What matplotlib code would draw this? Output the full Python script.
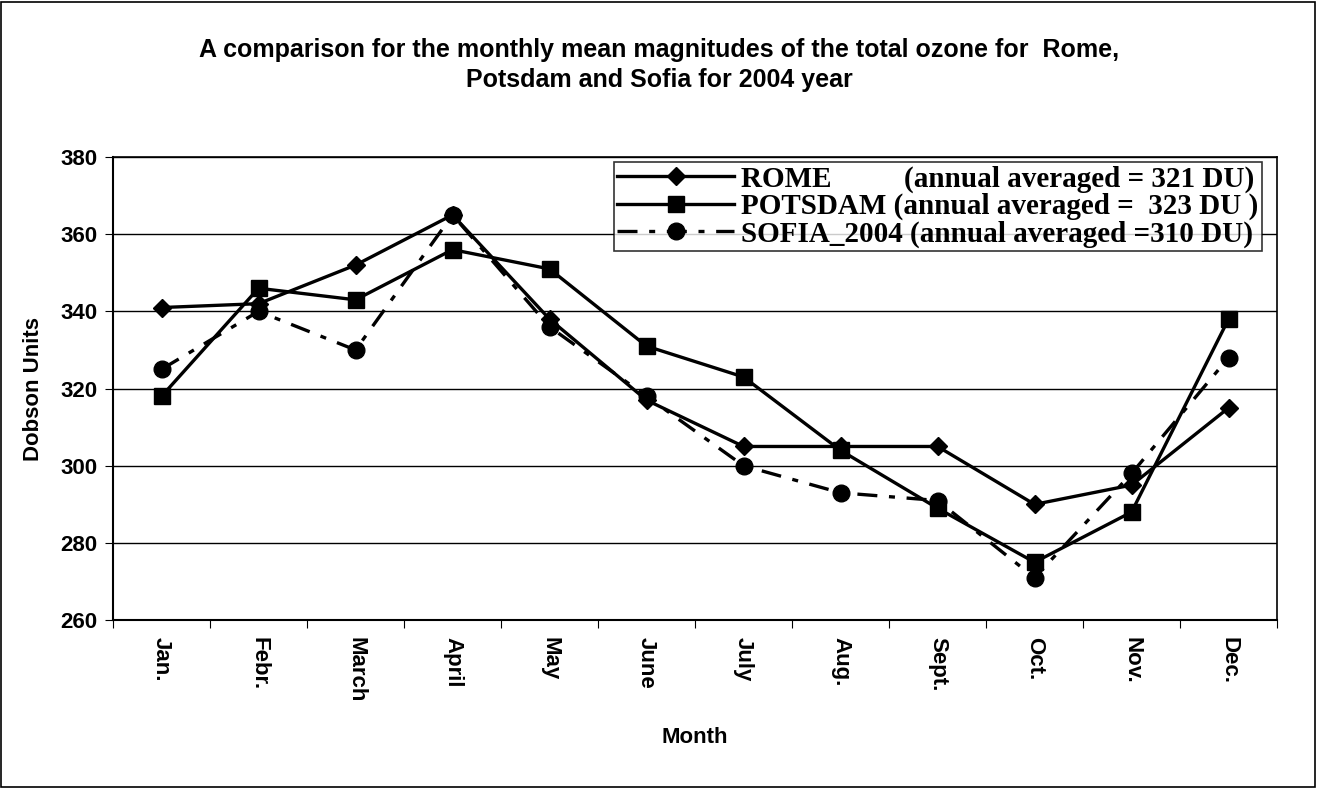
import matplotlib
matplotlib.use('Agg')
import matplotlib.pyplot as plt
from matplotlib.patches import Rectangle

months = ['Jan.', 'Febr.', 'March', 'April', 'May', 'June', 'July', 'Aug.', 'Sept.', 'Oct.', 'Nov.', 'Dec.']
rome = [341, 342, 352, 365, 338, 317, 305, 305, 305, 290, 295, 315]
potsdam = [318, 346, 343, 356, 351, 331, 323, 304, 289, 275, 288, 338]
sofia = [325, 340, 330, 365, 336, 318, 300, 293, 291, 271, 298, 328]

plt.rcParams['font.family'] = ['Liberation Sans', 'DejaVu Sans']

fig = plt.figure(figsize=(13.19, 7.89), dpi=100)
ax = fig.add_axes([0.0857, 0.214, 0.8825, 0.587])

x = range(len(months))
ax.plot(x, rome, color='black', lw=2.4, marker='D', ms=8.8, label='ROME          (annual averaged = 321 DU)')
ax.plot(x, potsdam, color='black', lw=2.4, marker='s', ms=12, label='POTSDAM (annual averaged =  323 DU )')
ax.plot(x, sofia, color='black', lw=2.4, marker='o', ms=12, dashes=[6, 3.5, 1.8, 3.5],
        label='SOFIA_2004 (annual averaged =310 DU)')

ax.set_xlim(-0.5, 11.5)
ax.set_ylim(260, 380)
ax.set_yticks(range(260, 381, 20))
ax.yaxis.grid(True, color='black', lw=1)
ax.set_axisbelow(True)
# tick marks between months, labels centred on months
ax.set_xticks([i + 0.5 for i in range(-1, 12)])
ax.set_xticklabels([])
ax.set_xticks(list(x), minor=True)
ax.set_xticklabels(months, minor=True, rotation=-90, fontsize=16, fontweight='bold')
ax.tick_params(axis='x', which='minor', length=0, pad=12)
ax.tick_params(axis='x', which='major', length=6, direction='out')
ax.tick_params(axis='y', length=6, labelsize=16, pad=5)
for t in ax.get_yticklabels():
    t.set_fontweight('bold')
for s in ['top', 'right']:
    ax.spines[s].set_visible(False)
ax.spines['left'].set_linewidth(1.5)
ax.spines['bottom'].set_linewidth(1.5)
ax.plot([1, 1], [0, 1], transform=ax.transAxes, color='black', lw=1.2, clip_on=False)
ax.plot([0, 1], [1, 1], transform=ax.transAxes, color='black', lw=1.2, clip_on=False)

ax.set_xlabel('Month', fontsize=16, fontweight='bold', labelpad=18)
ax.set_ylabel('Dobson Units', fontsize=16, fontweight='bold', labelpad=12)

leg = ax.legend(loc='upper right', bbox_to_anchor=(0.987, 0.989), frameon=True, fancybox=False,
                edgecolor='black', prop={'family': 'Liberation Serif', 'weight': 'bold', 'size': 21},
                labelspacing=0, handlelength=4, handletextpad=0.25, borderpad=0.12, borderaxespad=0)
leg.get_frame().set_linewidth(1.2)

fig.text(0.5, 0.918, 'A comparison for the monthly mean magnitudes of the total ozone for  Rome,\nPotsdam and Sofia for 2004 year',
         ha='center', va='center', fontsize=18, fontweight='bold', linespacing=1.3)

fig.patches.append(Rectangle((0.001, 0.002), 0.996, 0.995, transform=fig.transFigure,
                             fill=False, edgecolor='black', lw=1.2))

fig.savefig('out.png', dpi=100)
